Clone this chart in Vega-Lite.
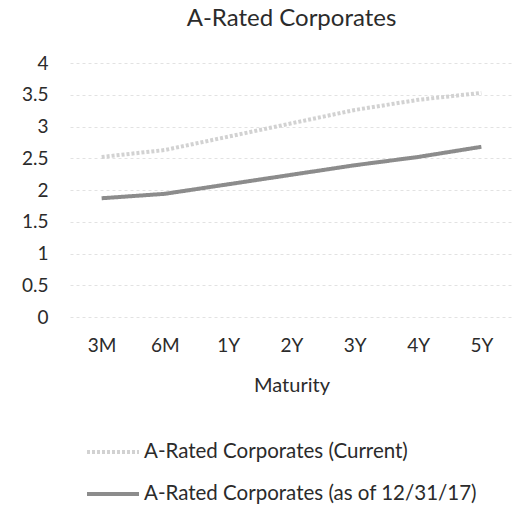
{
  "$schema": "https://vega.github.io/schema/vega-lite/v6.json",
  "width": 443,
  "height": 254,
  "autosize": "none",
  "padding": {"left": 70, "right": 6, "top": 63, "bottom": 189},
  "background": "white",
  "config": {"font": "Lato", "view": {"stroke": null}},
  "title": {"text": "A-Rated Corporates", "fontSize": 24, "fontWeight": "normal", "color": "#2b2b2b", "offset": 23},
  "data": {"values": [
    {"m": "3M", "s": "A-Rated Corporates (Current)", "v": 2.52},
    {"m": "6M", "s": "A-Rated Corporates (Current)", "v": 2.63},
    {"m": "1Y", "s": "A-Rated Corporates (Current)", "v": 2.84},
    {"m": "2Y", "s": "A-Rated Corporates (Current)", "v": 3.05},
    {"m": "3Y", "s": "A-Rated Corporates (Current)", "v": 3.26},
    {"m": "4Y", "s": "A-Rated Corporates (Current)", "v": 3.42},
    {"m": "5Y", "s": "A-Rated Corporates (Current)", "v": 3.53},
    {"m": "3M", "s": "A-Rated Corporates (as of 12/31/17)", "v": 1.87},
    {"m": "6M", "s": "A-Rated Corporates (as of 12/31/17)", "v": 1.94},
    {"m": "1Y", "s": "A-Rated Corporates (as of 12/31/17)", "v": 2.09},
    {"m": "2Y", "s": "A-Rated Corporates (as of 12/31/17)", "v": 2.24},
    {"m": "3Y", "s": "A-Rated Corporates (as of 12/31/17)", "v": 2.39},
    {"m": "4Y", "s": "A-Rated Corporates (as of 12/31/17)", "v": 2.52},
    {"m": "5Y", "s": "A-Rated Corporates (as of 12/31/17)", "v": 2.68}
  ]},
  "mark": {"type": "line", "strokeWidth": 4},
  "encoding": {
    "x": {"field": "m", "type": "nominal", "sort": ["3M","6M","1Y","2Y","3Y","4Y","5Y"],
      "scale": {"paddingInner": 0, "paddingOuter": 0.5},
      "axis": {"title": "Maturity", "titleFontSize": 20, "titleFontWeight": "normal", "titleColor": "#2b2b2b", "titlePadding": 20, "labelAngle": 0, "labelFontSize": 19, "labelColor": "#2b2b2b", "domain": false, "ticks": false, "labelPadding": 19, "grid": false}},
    "y": {"field": "v", "type": "quantitative", "scale": {"domain": [0, 4]},
      "axis": {"title": null, "values": [0,0.5,1,1.5,2,2.5,3,3.5,4], "format": "~g", "labelFontSize": 19, "labelColor": "#2b2b2b", "domain": false, "ticks": false, "labelPadding": 22, "gridColor": "#e2e2e2", "gridDash": [3,3]}},
    "color": {"field": "s", "type": "nominal",
      "scale": {"domain": ["A-Rated Corporates (Current)", "A-Rated Corporates (as of 12/31/17)"], "range": ["#d2d2d2", "#8c8c8c"]},
      "legend": {"title": null, "orient": "none", "legendX": 15, "legendY": 361, "direction": "vertical", "padding": 0, "labelFontSize": 20.5, "labelColor": "#2b2b2b", "labelOffset": 3, "symbolType": "stroke", "symbolStrokeWidth": 4, "symbolSize": 2704, "rowPadding": 3, "labelLimit": 500}},
    "strokeDash": {"field": "s", "type": "nominal",
      "scale": {"domain": ["A-Rated Corporates (Current)", "A-Rated Corporates (as of 12/31/17)"], "range": [[3,2],[1,0]]}, "legend": null}
  }
}
